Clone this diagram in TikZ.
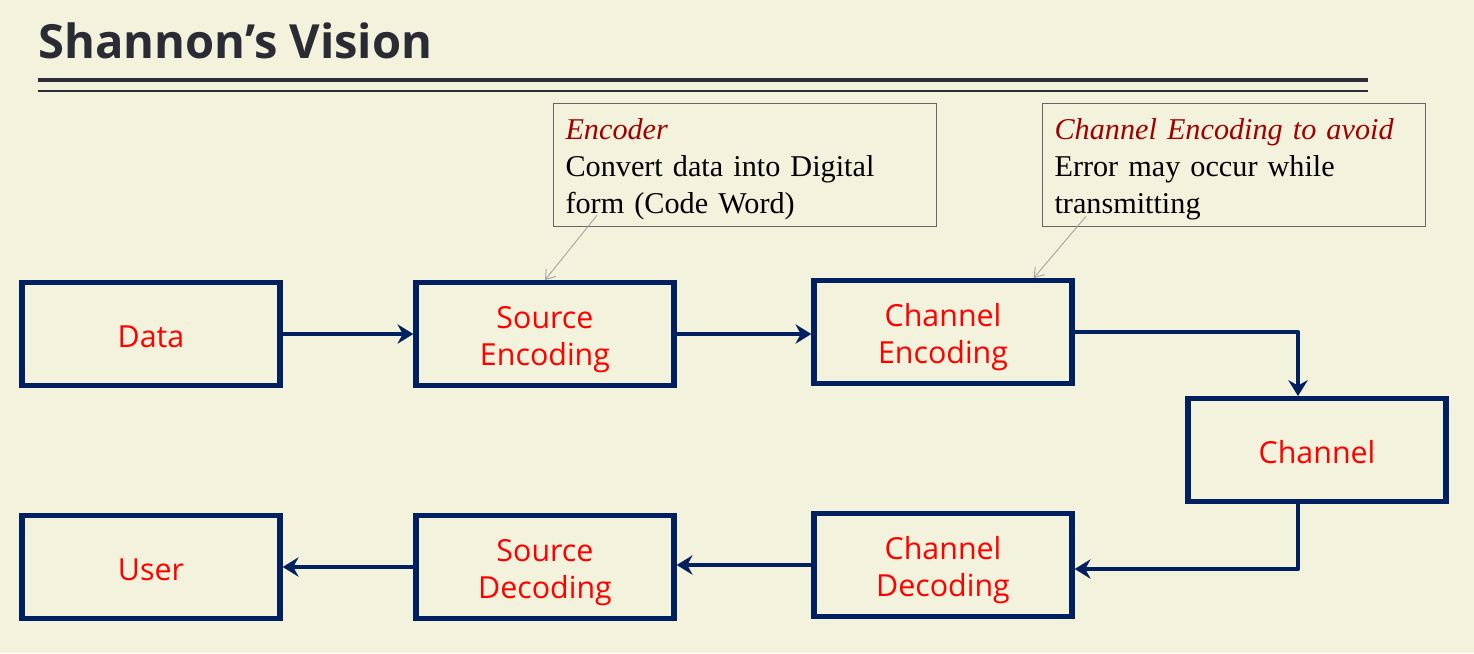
\documentclass[tikz,border=0pt]{standalone}
\usepackage{fontspec}
\setmainfont{Liberation Serif}
\setsansfont{Open Sans}
\usetikzlibrary{arrows.meta,calc}

\definecolor{slidebg}{HTML}{F3F2DC}
\definecolor{navy}{HTML}{002060}
\definecolor{titlegray}{HTML}{2B2B36}
\definecolor{notered}{HTML}{A00000}
\definecolor{leadergray}{HTML}{A0A4A0}

\newcommand{\blkstrut}{\rule{0pt}{19pt}}

\tikzset{
  block/.style={draw=navy, line width=3.1pt, minimum width=5.16cm, minimum height=2.05cm,
    align=center, text=red, font=\sffamily\fontsize{17.3}{21}\selectfont},
  flow/.style={draw=navy, line width=2.5pt, line join=round,
    -{Stealth[length=9pt,width=11pt,inset=3pt]}},
  note/.style={draw=black!60, line width=0.6pt, anchor=north west, align=left,
    text width=7.18cm, minimum width=7.66cm, minimum height=2.44cm,
    inner xsep=0.24cm, inner ysep=0.14cm, font=\fontsize{17.2}{21}\selectfont,
    execute at begin node={\rule{0pt}{16.5pt}}},
  leader/.style={draw=leadergray, line width=0.5pt, -{Straight Barb[length=5pt,width=7pt]}}
}

\begin{document}
\begin{tikzpicture}[x=0.02cm,y=-0.02cm]
  \fill[slidebg] (0,0) rectangle (1474,653);

  % title and rules
  \node[anchor=base west, inner sep=0pt, text=titlegray,
    font=\sffamily\bfseries\fontsize{26.8}{30}\selectfont] (title) at (38,58) {Shannon’s Vision};
  \draw[titlegray, line width=2.8pt] (38,80) -- (1368,80);
  \draw[titlegray, line width=0.9pt] (38,91) -- (1368,91);

  % blocks
  \node[block] (data) at (151,334) {\rule{0pt}{16pt}Data};
  \node[block] (srcenc) at (545,334) {\blkstrut Source\\Encoding};
  \node[block] (chenc) at (943,332) {\blkstrut Channel\\Encoding};
  \node[block] (chan) at (1317,450) {\rule{0pt}{16pt}Channel};
  \node[block] (user) at (151,567) {\rule{0pt}{16pt}User};
  \node[block] (srcdec) at (545,567) {\blkstrut Source\\Decoding};
  \node[block] (chdec) at (943,565) {\blkstrut Channel\\Decoding};

  % flow
  \draw[flow] (data) -- (srcenc);
  \draw[flow] (srcenc.east) -- (srcenc.east -| chenc.west);
  \draw[flow] (chenc.east) -| ($(chan.north)+(-19,0)$);
  \draw[flow] ($(chan.south)+(-19,0)$) |- ($(chdec.east)+(0,4)$);
  \draw[flow] (chdec.west) -- (chdec.west -| srcdec.east);
  \draw[flow] (srcdec) -- (user);

  % notes
  \node[note] (encnote) at (553,103)
    {\textcolor{notered}{\itshape Encoder}\\Convert data into Digital\\form (Code Word)};
  \node[note] (chnote) at (1042,103)
    {\textcolor{notered}{\itshape Channel Encoding to avoid}\\Error may occur while\\transmitting};
  \draw[leader] ($(encnote.south west)+(44,-12)$) -- (srcenc.north);
  \draw[leader] ($(chnote.south west)+(44,-11)$) -- ($(chenc.north east)+(-41,0)$);
\end{tikzpicture}
\end{document}
